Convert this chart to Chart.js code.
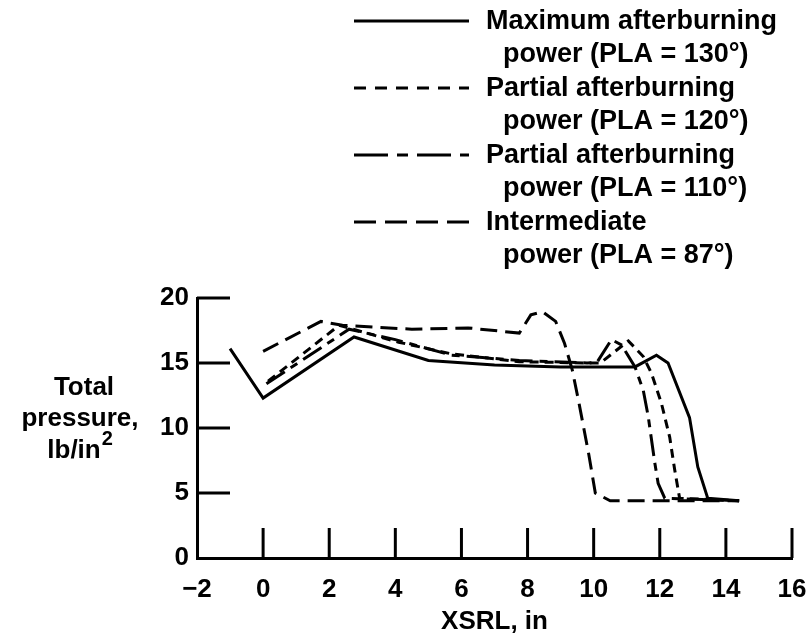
<!DOCTYPE html>
<html>
<head>
<meta charset="utf-8">
<script src="https://cdn.jsdelivr.net/npm/chart.js@4.4.0/dist/chart.umd.min.js"></script>
<style>
  html, body { margin: 0; padding: 0; background: #fff; }
  #wrap { position: relative; width: 807px; height: 643px; }
</style>
</head>
<body>
<div id="wrap"><canvas id="myChart"></canvas></div>
<script>
// data, XSRL (in) vs total pressure (lb/in2)
var xMax = [-1.0, 0, 2.75, 5.0, 7.0, 9.0, 11.25, 11.9, 12.25, 12.9, 13.15, 13.45, 14.4];
var yMax = [16.1, 12.3, 17.0, 15.2, 14.85, 14.7, 14.7, 15.6, 15.0, 10.8, 7.0, 4.6, 4.4];

var x120 = [0.15, 2.3, 4.1, 5.7, 7.75, 9.8, 10.2, 11.05, 11.5, 11.75, 12.05, 12.3, 12.45, 12.6, 14.4];
var y120 = [13.6, 17.9, 16.6, 15.7, 15.1, 15.0, 15.0, 16.7, 15.5, 14.2, 11.9, 9.3, 6.8, 4.6, 4.4];

var x110 = [0.1, 2.6, 4.0, 5.7, 7.75, 9.8, 10.1, 10.54, 10.84, 11.25, 11.5, 11.65, 11.85, 11.95, 12.15, 14.4];
var y110 = [13.4, 17.6, 16.8, 15.6, 15.2, 15.0, 15.05, 16.8, 16.4, 14.7, 12.9, 10.9, 7.3, 5.75, 4.6, 4.4];

var x87 = [0, 1.75, 2.4, 4.5, 6.2, 7.75, 8.1, 8.45, 8.85, 9.12, 9.35, 9.55, 9.85, 10.05, 10.5, 14.4];
var y87 = [15.9, 18.2, 17.9, 17.6, 17.7, 17.3, 18.7, 18.95, 18.2, 16.5, 14.5, 12.0, 8.0, 5.0, 4.4, 4.4];

var seriesLabels = [
  ["Maximum afterburning", "power (PLA = 130\u00b0)"],
  ["Partial afterburning", "power (PLA = 120\u00b0)"],
  ["Partial afterburning", "power (PLA = 110\u00b0)"],
  ["Intermediate", "power (PLA = 87\u00b0)"]
];
var xTicks = [-2, 0, 2, 4, 6, 8, 10, 12, 14, 16];
var yTicks = [0, 5, 10, 15, 20];
var yTitle = ["Total", "pressure,", "lb/in"];

var FONT = "'Liberation Sans', Arial, sans-serif";

function pts(xs, ys) {
  return xs.map(function(x, i) { return {x: x, y: ys[i]}; });
}

// legend + y title + inward ticks
var decor = {
  id: 'decor',
  afterDraw: function(chart) {
    var ctx = chart.ctx;
    var xs = chart.scales.x, ys = chart.scales.y;
    ctx.save();
    ctx.strokeStyle = '#000';
    ctx.fillStyle = '#000';
    ctx.lineWidth = 3;
    ctx.lineCap = 'butt';

    // ticks pointing into the plot
    yTicks.forEach(function(v) {
      if (v === 0) return;
      var py = ys.getPixelForValue(v);
      ctx.beginPath();
      ctx.moveTo(xs.left, py);
      ctx.lineTo(xs.left + 33, py);
      ctx.stroke();
    });
    xTicks.forEach(function(v) {
      if (v === -2) return;
      var px = xs.getPixelForValue(v);
      ctx.beginPath();
      ctx.moveTo(px, ys.bottom);
      ctx.lineTo(px, ys.bottom - 30);
      ctx.stroke();
    });

    // y axis title
    ctx.font = 'bold 26px ' + FONT;
    ctx.textAlign = 'center';
    ctx.textBaseline = 'middle';
    ctx.fillText(yTitle[0], 84, 388);
    ctx.fillText(yTitle[1], 80, 419);
    var w = ctx.measureText(yTitle[2]).width;
    ctx.textAlign = 'left';
    ctx.fillText(yTitle[2], 80 - w / 2 - 6, 451);
    ctx.font = 'bold 20px ' + FONT;
    ctx.fillText('2', 80 + w / 2 - 5, 439);

    // legend
    chart.data.datasets.forEach(function(ds, i) {
      var rowY = 21 + i * 67;
      ctx.setLineDash(ds.legendDash || []);
      ctx.beginPath();
      ctx.moveTo(354, rowY);
      ctx.lineTo(469, rowY);
      ctx.stroke();
      ctx.setLineDash([]);
      ctx.font = 'bold 27px ' + FONT;
      ctx.textAlign = 'left';
      ctx.fillText(seriesLabels[i][0], 486, rowY + 1);
      ctx.fillText(seriesLabels[i][1], 503, rowY + 34);
    });
    ctx.restore();
  }
};

var common = {
  showLine: true,
  borderColor: '#000',
  backgroundColor: '#000',
  borderWidth: 3,
  pointRadius: 0,
  tension: 0,
  fill: false
};

new Chart("myChart", {
  type: "scatter",
  data: {
    datasets: [
      Object.assign({label: seriesLabels[0].join(' '), data: pts(xMax, yMax), borderDash: [], legendDash: []}, common),
      Object.assign({label: seriesLabels[1].join(' '), data: pts(x120, y120), borderDash: [9, 6], legendDash: [12, 9]}, common),
      Object.assign({label: seriesLabels[2].join(' '), data: pts(x110, y110), borderDash: [22, 7, 8, 7], legendDash: [34, 9, 11, 9]}, common),
      Object.assign({label: seriesLabels[3].join(' '), data: pts(x87, y87), borderDash: [17, 8], legendDash: [22, 9]}, common)
    ]
  },
  options: {
    responsive: true,
    maintainAspectRatio: false,
    animation: false,
    layout: { padding: { top: 298, right: 0, left: 0, bottom: 0 } },
    plugins: { legend: { display: false }, tooltip: { enabled: false } },
    scales: {
      x: {
        type: 'linear',
        min: -2, max: 16,
        afterBuildTicks: function(s) { s.ticks = xTicks.map(function(v) { return {value: v}; }); },
        afterFit: function(s) { s.height = 85; s.paddingRight = 15; },
        grid: { display: false, drawTicks: false },
        border: { display: true, color: '#000', width: 3 },
        ticks: {
          color: '#000', padding: 16, maxRotation: 0,
          font: { family: FONT, size: 26, weight: 'bold' },
          callback: function(v) { return String(v).replace('-', '\u2212'); }
        },
        title: {
          display: true, text: 'XSRL, in', color: '#000',
          font: { family: FONT, size: 26, weight: 'bold' },
          padding: { top: 4, bottom: 6 }
        }
      },
      y: {
        type: 'linear',
        min: 0, max: 20,
        afterBuildTicks: function(s) { s.ticks = yTicks.map(function(v) { return {value: v}; }); },
        afterFit: function(s) { s.width = 197; },
        grid: { display: false, drawTicks: false },
        border: { display: true, color: '#000', width: 3 },
        ticks: {
          color: '#000', padding: 8,
          font: { family: FONT, size: 26, weight: 'bold' }
        }
      }
    }
  },
  plugins: [decor]
});
</script>
</body>
</html>
